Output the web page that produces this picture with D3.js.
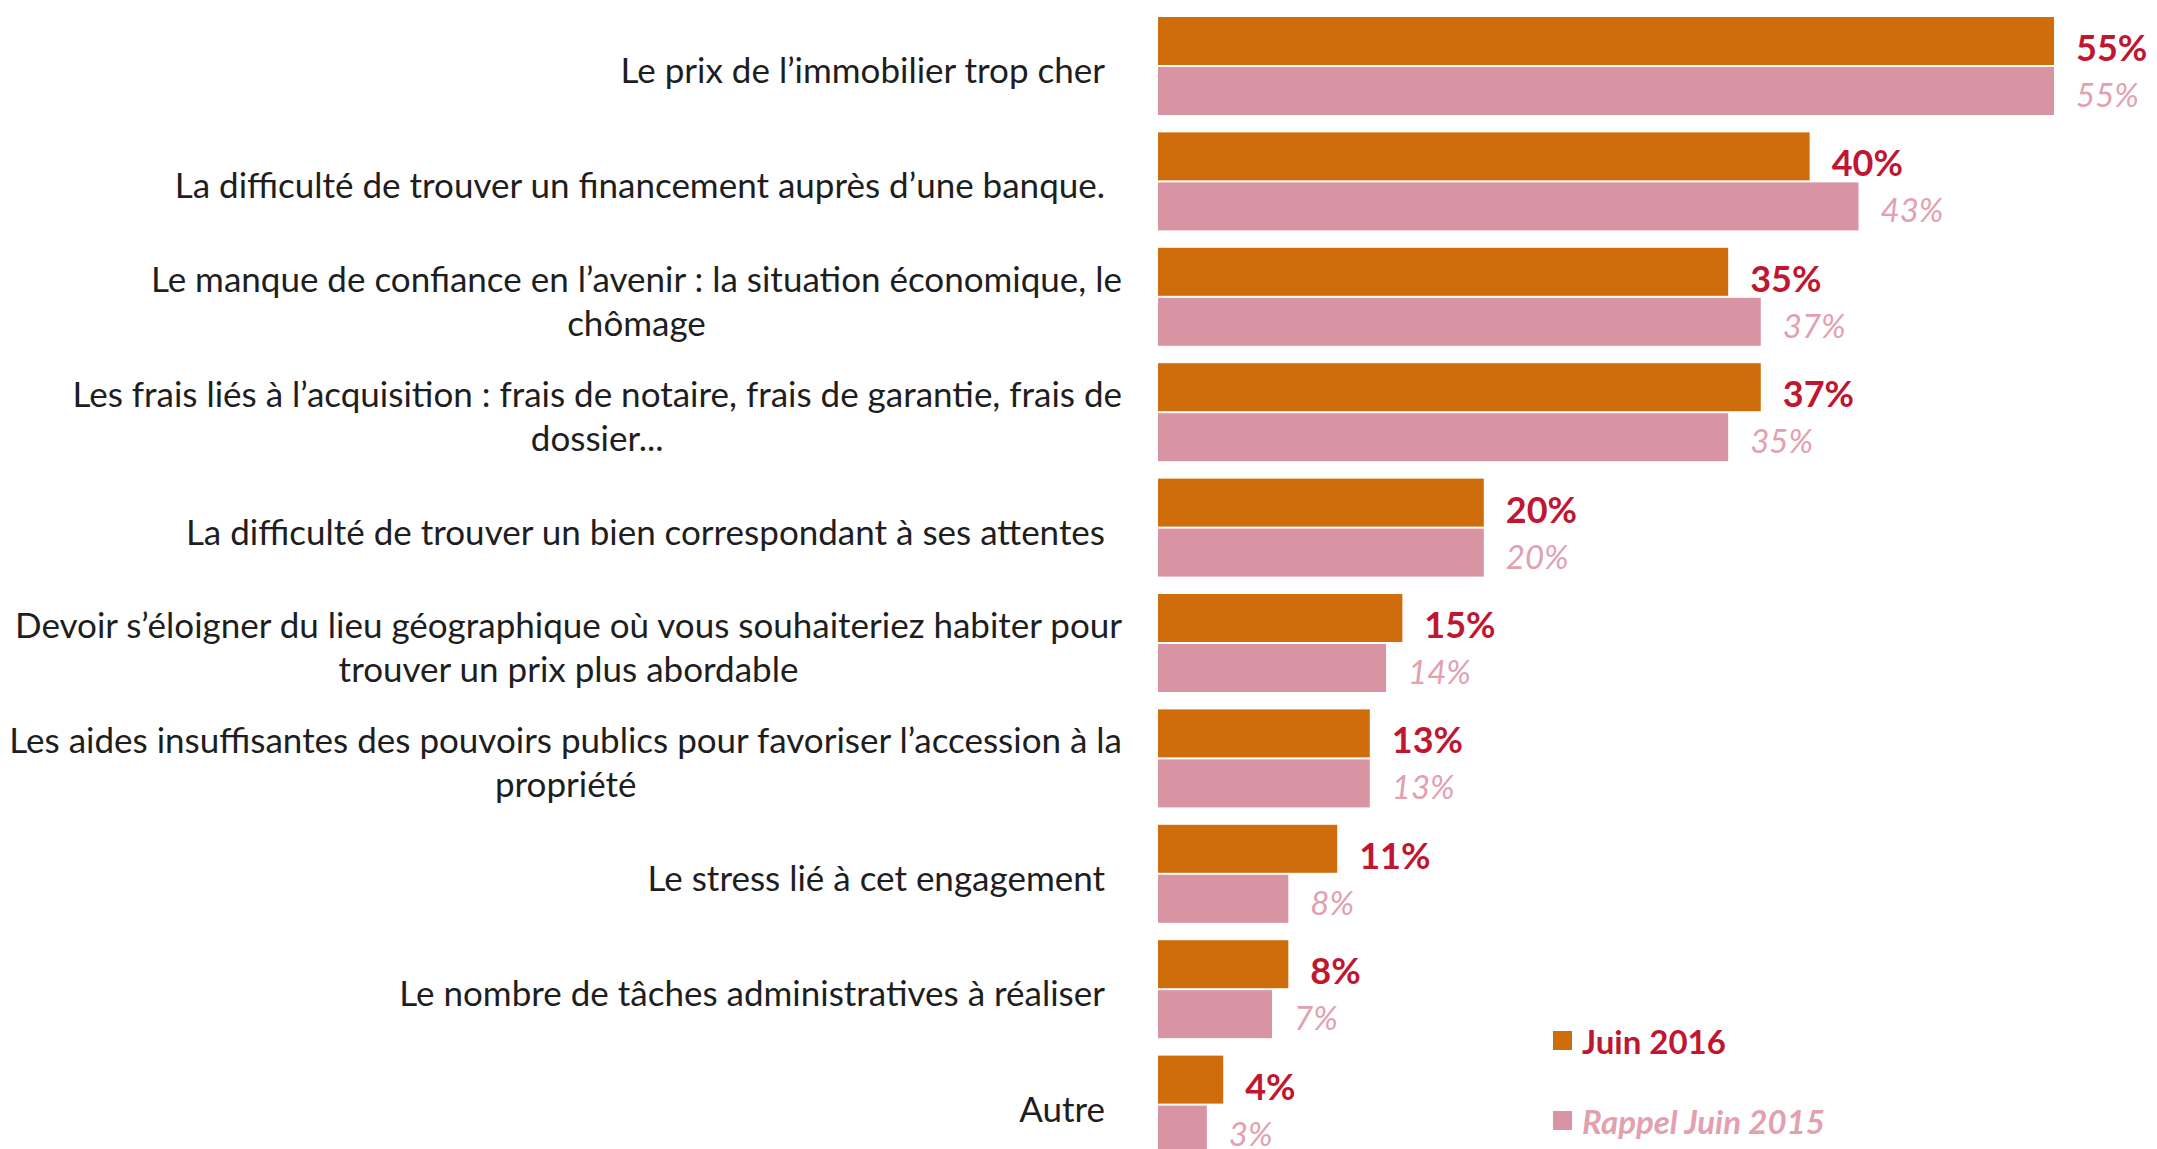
<!DOCTYPE html>
<html>
<head>
<meta charset="utf-8">
<script src="https://cdn.jsdelivr.net/npm/d3@7"></script>
<style>
  body { margin: 0; background: #fff; }
  svg { display: block; }
  text { font-family: Lato, 'Open Sans', sans-serif; }
</style>
</head>
<body>
<div id="chart"></div>
<script>
/* Data */
const categories = [
  'Le prix de l’immobilier trop cher',
  'La difficulté de trouver un financement auprès d’une banque.',
  'Le manque de confiance en l’avenir : la situation économique, le\nchômage',
  'Les frais liés à l’acquisition : frais de notaire, frais de garantie, frais de\ndossier...',
  'La difficulté de trouver un bien correspondant à ses attentes',
  'Devoir s’éloigner du lieu géographique où vous souhaiteriez habiter pour\ntrouver un prix plus abordable',
  'Les aides insuffisantes des pouvoirs publics pour favoriser l’accession à la\npropriété',
  'Le stress lié à cet engagement',
  'Le nombre de tâches administratives à réaliser',
  'Autre',
];
const juin2016 = [55, 40, 35, 37, 20, 15, 13, 11, 8, 4];
const juin2015 = [55, 43, 37, 35, 20, 14, 13, 8, 7, 3];
const seriesNames = ['Juin 2016', 'Rappel Juin 2015'];

/* Layout */
const width = 2157,
  height = 1149;
const colors = ['#cf6c0c', '#d994a4'];
const labelColors = ['#c0162f', '#e2a0b0'];

const svg = d3
  .select('#chart')
  .append('svg')
  .attr('width', width)
  .attr('height', height);

svg.append('rect').attr('width', width).attr('height', height).attr('fill', '#fff');

const x = d3.scaleLinear().domain([0, 55]).range([1158, 2054]);
const y = d3
  .scaleBand()
  .domain(d3.range(categories.length))
  .range([17, 17 + 115.4 * categories.length]);
const ySub = d3.scaleBand().domain([0, 1]).range([0, 98]).paddingInner(0.04);
const bw = ySub.bandwidth();

const rows = categories.map((c, i) => ({
  label: c,
  lines: c.split('\n'),
  values: [juin2016[i], juin2015[i]],
  i,
}));

const groups = svg
  .selectAll('g.row')
  .data(rows)
  .join('g')
  .attr('class', 'row')
  .attr('transform', (d) => `translate(0, ${y(d.i)})`);

// bars
groups
  .selectAll('rect')
  .data((d) => d.values.map((v, k) => ({ v, k })))
  .join('rect')
  .attr('x', x(0))
  .attr('y', (d) => ySub(d.k))
  .attr('width', (d) => x(d.v) - x(0))
  .attr('height', bw)
  .attr('fill', (d) => colors[d.k]);

// value labels
groups
  .selectAll('text.val')
  .data((d) => d.values.map((v, k) => ({ v, k })))
  .join('text')
  .attr('class', 'val')
  .attr('x', (d) => x(d.v) + 22)
  .attr('y', (d) => ySub(d.k) + bw / 2 + (d.k === 0 ? 20 : 16))
  .attr('fill', (d) => labelColors[d.k])
  .style('font-size', (d) => (d.k === 0 ? '36px' : '33px'))
  .style('font-weight', (d) => (d.k === 0 ? 700 : 400))
  .style('font-style', (d) => (d.k === 0 ? 'normal' : 'italic'))
  .text((d) => d.v + '%');

// category labels
const mid = 98 / 2;
groups.each(function (d) {
  const g = d3.select(this);
  if (d.lines.length === 1) {
    g.append('text')
      .attr('x', 1105)
      .attr('y', mid + 17)
      .attr('text-anchor', 'end')
      .attr('fill', '#1e1e1e')
      .style('font-size', '35px')
      .text(d.lines[0]);
  } else {
    const t = g
      .selectAll('text.cat')
      .data(d.lines)
      .join('text')
      .attr('class', 'cat')
      .attr('y', (l, j) => mid - 5 + j * 44)
      .attr('text-anchor', 'middle')
      .attr('fill', '#1e1e1e')
      .style('font-size', '35px')
      .text((l) => l);
    const maxW = d3.max(t.nodes(), (n) => n.getComputedTextLength());
    t.attr('x', 1122 - maxW / 2);
  }
});

// legend
const legend = svg
  .append('g')
  .selectAll('g')
  .data(seriesNames)
  .join('g')
  .attr('transform', (d, k) => `translate(1553, ${1031 + k * 80})`);

legend
  .append('rect')
  .attr('width', 19)
  .attr('height', 19)
  .attr('fill', (d, k) => colors[k]);

legend
  .append('text')
  .attr('x', 29)
  .attr('y', 23)
  .attr('fill', (d, k) => labelColors[k])
  .style('font-size', '33px')
  .style('font-weight', 700)
  .style('font-style', (d, k) => (k === 0 ? 'normal' : 'italic'))
  .text((d) => d);
</script>
</body>
</html>
